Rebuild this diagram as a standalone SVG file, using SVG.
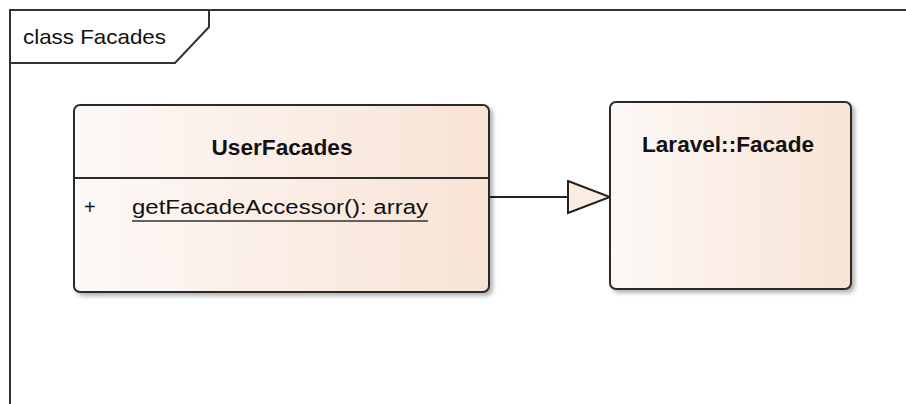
<svg xmlns="http://www.w3.org/2000/svg" width="906" height="404" viewBox="0 0 906 404">
<style>
.frame{fill:none;stroke:#333;stroke-width:2}
.box{stroke:#2b2b2b;stroke-width:2;fill:url(#grad)}
.t{font-family:"Liberation Sans",Arial,sans-serif;fill:#111}
.title{font-weight:bold;font-size:22px}
.attr{font-size:20px}
.conn{stroke:#222;stroke-width:2;fill:none}
</style>
<defs>
<linearGradient id="grad" x1="0" y1="0" x2="1" y2="0">
<stop offset="0" stop-color="#fdf9f7"/>
<stop offset="1" stop-color="#f8e3d5"/>
</linearGradient>
<filter id="sh" x="-5%" y="-5%" width="115%" height="115%">
<feDropShadow dx="3" dy="3" stdDeviation="2" flood-color="#000" flood-opacity="0.3"/>
</filter>
<marker id="gen" markerWidth="46" markerHeight="36" refX="44" refY="17" orient="auto" markerUnits="userSpaceOnUse">
<path d="M2,1 L44,17 L2,33 Z" fill="#fbeee0" stroke="#222" stroke-width="2"/>
</marker>
</defs>
<g id="frame">
<path class="frame" d="M906,10 L10,10 L10,404"/>
<path class="frame" d="M10,10 L209,10 L209,27 L175,63 L10,63"/>
<text class="t" x="23" y="44" font-size="21" textLength="143" lengthAdjust="spacingAndGlyphs">class Facades</text>
</g>
<g id="connectors">
<path class="conn" d="M489,197 L610,197" marker-end="url(#gen)"/>
</g>
<g id="UserFacades">
<rect class="box" x="74" y="105" width="415" height="187" rx="6" filter="url(#sh)"/>
<line x1="74" y1="178" x2="489" y2="178" stroke="#2b2b2b" stroke-width="2"/>
<text class="t title" x="282" y="155" text-anchor="middle" textLength="141" lengthAdjust="spacingAndGlyphs">UserFacades</text>
<text class="t attr" x="84" y="214">+</text>
<text class="t attr" x="132" y="214" textLength="296" lengthAdjust="spacingAndGlyphs">getFacadeAccessor(): array</text>
<line x1="132" y1="221" x2="428" y2="221" stroke="#333" stroke-width="1.5"/>
</g>
<g id="LaravelFacade">
<rect class="box" x="610" y="102" width="241" height="187" rx="6" filter="url(#sh)"/>
<text class="t title" x="728" y="152" text-anchor="middle" textLength="172" lengthAdjust="spacingAndGlyphs">Laravel::Facade</text>
</g>
</svg>
